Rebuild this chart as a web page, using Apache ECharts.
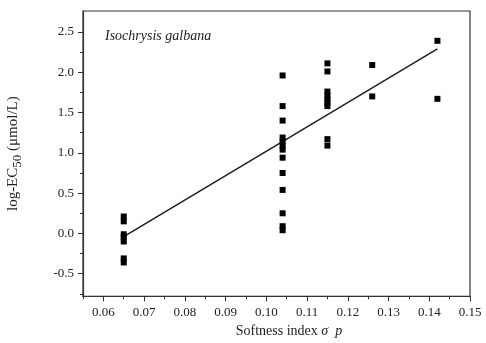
<!DOCTYPE html>
<html>
<head>
<meta charset="utf-8">
<script src="https://cdn.jsdelivr.net/npm/echarts@6/dist/echarts.min.js"></script>
<style>
  html, body { margin: 0; padding: 0; background: #fff; }
  #chart { width: 486px; height: 343px; }
</style>
</head>
<body>
<div id="chart"></div>
<script>
// Softness index (sigma p) of each compound group
const softnessIndex = [0.065, 0.104, 0.115, 0.126, 0.142];
// log-EC50 values measured for each group
const logEC50 = [
  [0.21, 0.15, -0.01, -0.05, -0.10, -0.31, -0.36],
  [1.96, 1.58, 1.40, 1.19, 1.14, 1.09, 1.04, 0.94, 0.75, 0.54, 0.25, 0.09, 0.04],
  [2.11, 2.01, 1.76, 1.71, 1.66, 1.62, 1.58, 1.17, 1.09],
  [2.09, 1.70],
  [2.39, 1.67]
];
// Endpoints of the fitted regression line
const fitX = [0.065, 0.142];
const fitY = [-0.04, 2.29];
// Axis tick values
const xMajor = [0.06, 0.07, 0.08, 0.09, 0.10, 0.11, 0.12, 0.13, 0.14, 0.15];
const xMinor = [0.055, 0.065, 0.075, 0.085, 0.095, 0.105, 0.115, 0.125, 0.135, 0.145];
const yMajor = [-0.5, 0.0, 0.5, 1.0, 1.5, 2.0, 2.5];
const yMinor = [-0.75, -0.25, 0.25, 0.75, 1.25, 1.75, 2.25];

const points = [];
softnessIndex.forEach((x, i) => logEC50[i].forEach(y => points.push([x, y])));

const ink = '#222';
const serif = '"Liberation Serif", "DejaVu Serif", serif';

const chart = echarts.init(document.getElementById('chart'), null, { renderer: 'canvas' });
chart.setOption({
  animation: false,
  backgroundColor: '#fff',
  textStyle: { fontFamily: serif, color: ink },
  title: {
    text: 'Isochrysis galbana',
    left: 100, top: 24,
    textStyle: { fontFamily: serif, fontStyle: 'italic', fontWeight: 'normal', fontSize: 14, color: ink }
  },
  grid: {
    left: 83, right: 16, top: 11, bottom: 46.7,
    outerBoundsMode: 'none', containLabel: false,
    show: true, borderColor: '#333', borderWidth: 1.2, backgroundColor: '#fff'
  },
  xAxis: [{
    type: 'value', min: 0.055, max: 0.15,
    name: 'Softness index {i|σ  p}',
    nameLocation: 'middle', nameGap: 23,
    nameTextStyle: {
      fontFamily: serif, fontSize: 14, color: ink, padding: [0, 0, 0, 25],
      rich: { i: { fontFamily: serif, fontStyle: 'italic', fontSize: 14, color: ink } }
    },
    axisLine: { show: true, onZero: false, lineStyle: { color: '#333', width: 1.2 } },
    axisTick: { show: true, length: 5, customValues: xMajor, lineStyle: { color: '#333' } },
    axisLabel: {
      show: true, customValues: xMajor, margin: 10,
      fontFamily: serif, fontSize: 13, color: ink,
      formatter: v => v.toFixed(2)
    },
    splitLine: { show: false }
  }, {
    type: 'value', min: 0.055, max: 0.15, position: 'bottom', offset: 0,
    axisLine: { show: false, onZero: false },
    axisTick: { show: true, length: 3, customValues: xMinor, lineStyle: { color: '#333' } },
    axisLabel: { show: false },
    splitLine: { show: false }
  }],
  yAxis: [{
    type: 'value', min: -0.78, max: 2.76, position: 'left',
    name: '{a|log-EC}{s|50}{a| (μmol/L)}',
    nameLocation: 'middle', nameGap: 61, nameRotate: 90,
    nameTextStyle: {
      fontFamily: serif, fontSize: 15, color: ink,
      rich: {
        a: { fontFamily: serif, fontSize: 15, color: ink, lineHeight: 18 },
        s: { fontFamily: serif, fontSize: 13, color: ink, lineHeight: 18, padding: [9, 0, 0, 0] }
      }
    },
    axisLine: { show: true, onZero: false, lineStyle: { color: '#333', width: 1.2 } },
    axisTick: { show: true, length: 5, customValues: yMajor, lineStyle: { color: '#333' } },
    axisLabel: {
      show: true, customValues: yMajor, margin: 9,
      fontFamily: serif, fontSize: 13, color: ink,
      formatter: v => v.toFixed(1)
    },
    splitLine: { show: false }
  }, {
    type: 'value', min: -0.78, max: 2.76, position: 'left', offset: 0,
    axisLine: { show: false, onZero: false },
    axisTick: { show: true, length: 3, customValues: yMinor, lineStyle: { color: '#333' } },
    axisLabel: { show: false },
    splitLine: { show: false }
  }],
  series: [{
    type: 'scatter',
    data: points,
    symbol: 'rect', symbolSize: 6,
    itemStyle: { color: '#000', opacity: 1 },
    z: 3
  }, {
    type: 'line',
    data: fitX.map((x, i) => [x, fitY[i]]),
    showSymbol: false, symbol: 'none',
    lineStyle: { color: '#1a1a1a', width: 1.4 },
    z: 2
  }]
});
</script>
